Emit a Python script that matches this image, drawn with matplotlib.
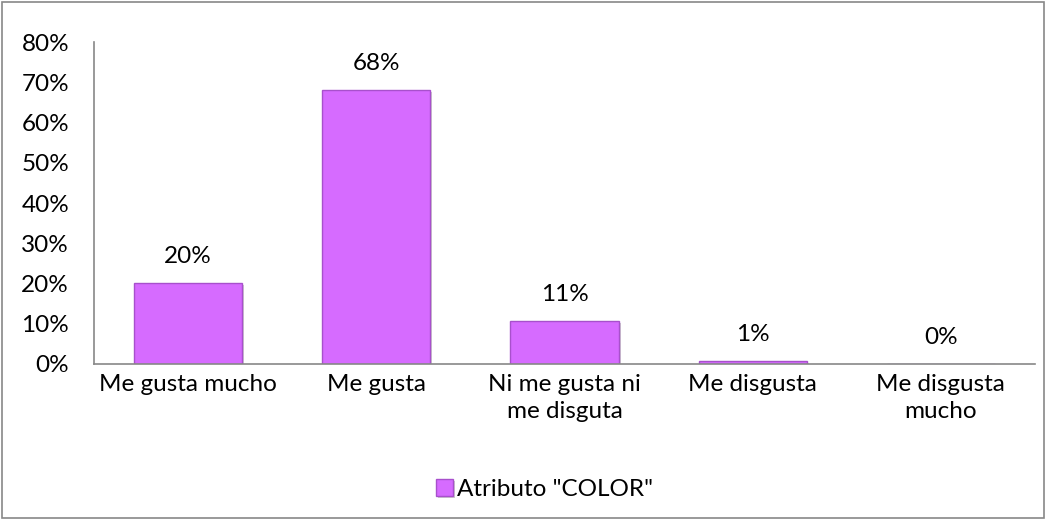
import matplotlib.pyplot as plt
import matplotlib.patheffects as pe
from matplotlib.ticker import PercentFormatter
import numpy as np

plt.rcParams['font.family'] = ['Lato', 'DejaVu Sans']

# data
categorias = ["Me gusta mucho", "Me gusta", "Ni me gusta ni\nme disguta",
              "Me disgusta", "Me disgusta\nmucho"]
valores = [0.202, 0.68, 0.107, 0.007, 0.0]
etiquetas = ["20%", "68%", "11%", "1%", "0%"]
serie = 'Atributo "COLOR"'

fs = 17.5

fig = plt.figure(figsize=(10.47, 5.2), dpi=100)
ax = fig.add_axes([0.0898, 0.30, 0.8987, 0.619])

x = np.arange(len(categorias))
barras = ax.bar(x, valores, width=0.575, color="#D66BFF", edgecolor="#A850CC",
                linewidth=1.0, label=serie)
for b in barras:
    b.set_path_effects([pe.SimplePatchShadow(offset=(1.5, -1.5), shadow_rgbFace="#999999",
                                             alpha=0.5), pe.Normal()])

for xi, v, t in zip(x, valores, etiquetas):
    ax.text(xi, v + 0.04, t, ha="center", va="bottom", fontsize=fs, color="#000000")

ax.set_xlim(-0.5, len(categorias) - 0.5)
ax.set_ylim(0, 0.80)
ax.set_yticks(np.arange(0, 0.81, 0.10))
ax.yaxis.set_major_formatter(PercentFormatter(1.0, decimals=0))
ax.set_xticks(x)
ax.set_xticklabels(categorias, fontsize=fs, linespacing=1.35)
ax.tick_params(axis="y", labelsize=fs, length=0, pad=18)
ax.tick_params(axis="x", length=0, pad=7)

for s in ["top", "right"]:
    ax.spines[s].set_visible(False)
for s in ["left", "bottom"]:
    ax.spines[s].set_color("#888888")
    ax.spines[s].set_linewidth(1.2)

fig.legend(handles=[barras], labels=[serie], loc="center", bbox_to_anchor=(0.52, 0.058),
           frameon=False, fontsize=fs, handlelength=0.7, handleheight=0.7,
           handletextpad=0.15)

# outer chart border
fig.patches.append(plt.Rectangle((0.002, 0.003), 0.995, 0.994, transform=fig.transFigure,
                                 fill=False, edgecolor="#888888", linewidth=1.2))

fig.savefig("out.png", dpi=100)
